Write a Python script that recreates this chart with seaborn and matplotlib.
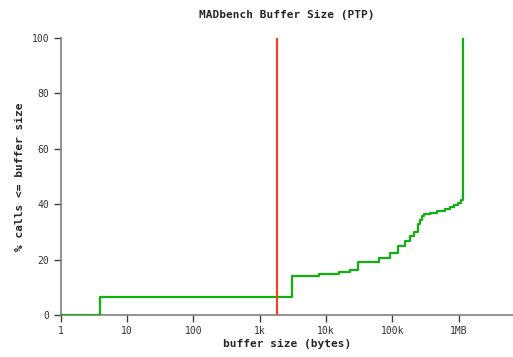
import matplotlib
matplotlib.use("Agg")
import matplotlib.pyplot as plt
import seaborn as sns
import pandas as pd

# step CDF of buffer sizes (bytes -> % calls <= size)
buffer_sizes = [1, 4, 3030, 7820, 15600, 22900, 30600, 62600, 91700, 122000,
                154000, 183000, 211000, 245000, 260000, 278000, 298000, 367000,
                480000, 618000, 735000, 844000, 994000, 1100000, 1180000]
pct_calls = [0, 6.5, 14.1, 14.8, 15.5, 16.2, 19.0, 20.5, 22.5, 24.9,
             26.7, 28.5, 30.1, 32.9, 34.3, 35.7, 36.5, 36.9,
             37.4, 38.3, 38.9, 39.8, 40.5, 41.5, 100]
marker_size = [1840]
x_ticks = [1, 10, 100, 1000, 10000, 100000, 1000000]
x_tick_labels = ["1", "10", "100", "1k", "10k", "100k", "1MB"]
y_ticks = [0, 20, 40, 60, 80, 100]

sns.set_style("white")
plt.rcParams['font.family'] = ['DejaVu Sans Mono', 'DejaVu Sans']

fig = plt.figure(figsize=(5.13, 3.57), dpi=100)
ax = fig.add_axes([60.5/513, 42/357, 452.5/513, 277/357])

df = pd.DataFrame({"size": buffer_sizes, "pct": pct_calls})
sns.lineplot(data=df, x="size", y="pct", ax=ax, drawstyle="steps-post",
             color="#10b010", linewidth=1.6, zorder=3)
for m in marker_size:
    ax.axvline(m, color="#f04428", linewidth=1.6, zorder=4)

ax.set_xscale("log")
ax.set_xlim(1, 6.6e6)
ax.set_ylim(0, 100)
ax.set_xticks(x_ticks)
ax.set_xticklabels(x_tick_labels)
ax.minorticks_off()
ax.set_yticks(y_ticks)

for s in ["top", "right"]:
    ax.spines[s].set_visible(False)
for s in ["left", "bottom"]:
    ax.spines[s].set_color("#808080")
    ax.spines[s].set_linewidth(1.2)

ax.tick_params(axis="both", which="major", direction="out", length=5,
               width=1, color="#404040", labelsize=7, labelcolor="#333333", pad=3)
ax.tick_params(axis="x", bottom=True)
ax.tick_params(axis="y", left=True)

ax.set_xlabel("buffer size (bytes)", fontsize=8, fontweight="bold", labelpad=2)
ax.set_ylabel("% calls <= buffer size", fontsize=8, fontweight="bold", labelpad=5)
fig.suptitle("MADbench Buffer Size (PTP)", fontsize=8, fontweight="bold",
             x=(60.5 + 452.5/2)/513, y=1-15/357, va="center")

fig.savefig("out.png", dpi=100)
